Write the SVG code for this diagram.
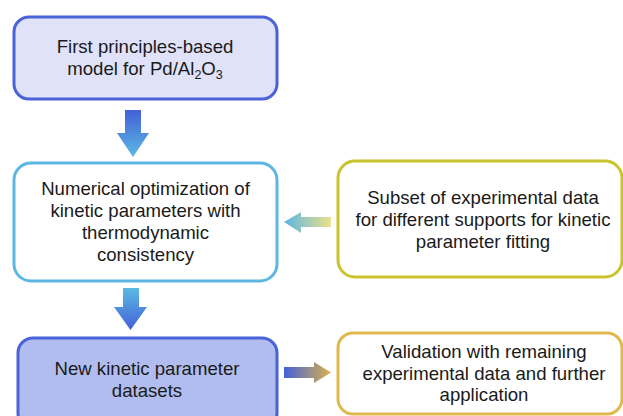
<svg xmlns="http://www.w3.org/2000/svg" width="623" height="416" viewBox="0 0 623 416">
<defs>
<linearGradient id="gDown1" x1="0" y1="0" x2="0" y2="1"><stop offset="0" stop-color="#4360d8"/><stop offset="1" stop-color="#5cb9e3"/></linearGradient>
<linearGradient id="gDown2" x1="0" y1="0" x2="0" y2="1"><stop offset="0" stop-color="#5cb9e3"/><stop offset="1" stop-color="#4360d8"/></linearGradient>
<linearGradient id="gLeft" x1="0" y1="0" x2="1" y2="0"><stop offset="0" stop-color="#5cb5e3"/><stop offset="1" stop-color="#ebe28c"/></linearGradient>
<linearGradient id="gRight" x1="0" y1="0" x2="1" y2="0"><stop offset="0" stop-color="#4360d8"/><stop offset="1" stop-color="#dcb24e"/></linearGradient>
<style>
.box{stroke-width:3}
.t{font-family:"Liberation Sans",Arial,sans-serif;font-size:18.6px;fill:#1a1a1a;text-anchor:middle}
.sub{font-size:12.5px}
</style>
</defs>
<g id="connectors">
<path d="M125 110 H141 V133 H149 L133 157 L117 133 H125 Z" fill="url(#gDown1)"/>
<path d="M123 288 H139 V307 H147 L130.5 330 L114 307 H123 Z" fill="url(#gDown2)"/>
<path d="M331 217 V227 H301 V233 L284 222 L301 212 V217 Z" fill="url(#gLeft)"/>
<path d="M284 367 H314 V362 L331 372.5 L314 383 V378 H284 Z" fill="url(#gRight)"/>
</g>
<g id="node1">
<rect class="box" x="14" y="17" width="263" height="82" rx="15" fill="#dfe2f8" stroke="#4a63d8"/>
<text class="t" x="145" y="53">First principles-based</text>
<text class="t" x="145" y="75">model for Pd/Al<tspan class="sub" dy="4">2</tspan><tspan dy="-4">O</tspan><tspan class="sub" dy="4">3</tspan></text>
</g>
<g id="node2">
<rect class="box" x="14" y="163" width="263" height="118" rx="17" fill="#ffffff" stroke="#5cb6e2"/>
<text class="t" x="145.5" y="195">Numerical optimization of</text>
<text class="t" x="145.5" y="217">kinetic parameters with</text>
<text class="t" x="145.5" y="239">thermodynamic</text>
<text class="t" x="145.5" y="261">consistency</text>
</g>
<g id="node3">
<rect class="box" x="338" y="161" width="284" height="116" rx="17" fill="#ffffff" stroke="#cac32d"/>
<text class="t" x="483" y="204">Subset of experimental data</text>
<text class="t" x="483" y="226">for different supports for kinetic</text>
<text class="t" x="483" y="248">parameter fitting</text>
</g>
<g id="node4">
<rect class="box" x="18" y="338" width="259" height="90" rx="15" fill="#b1bdee" stroke="#4a63d8"/>
<text class="t" x="147" y="375">New kinetic parameter</text>
<text class="t" x="147" y="397">datasets</text>
</g>
<g id="node5">
<rect class="box" x="338" y="333" width="284" height="81" rx="15" fill="#ffffff" stroke="#e0b84e"/>
<text class="t" x="484" y="358">Validation with remaining</text>
<text class="t" x="484" y="380">experimental data and further</text>
<text class="t" x="484" y="401">application</text>
</g>
</svg>
